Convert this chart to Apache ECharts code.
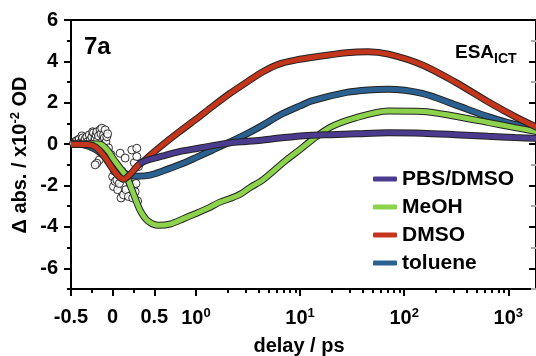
<!DOCTYPE html>
<html><head><meta charset="utf-8">
<script src="https://cdn.jsdelivr.net/npm/echarts@6/dist/echarts.min.js"></script>
<style>html,body{margin:0;padding:0;background:#fff}#c{width:536px;height:356px}</style>
</head><body><div id="c"></div>
<script>
// ---- data (delay in ps, signal in 10^-2 OD) ----
const seriesNames = ['PBS/DMSO', 'MeOH', 'DMSO', 'toluene'];
const seriesColors = ['#4b3b8f', '#8cd24c', '#c4361c', '#2b6190'];

const pbsT = [0.32, 0.4, 0.5, 0.62, 0.8, 1.05, 1.5, 2.1, 3.0, 4.4, 7, 12, 20, 34, 70, 149, 309, 639, 1159, 1900];
const pbsV = [-0.95, -0.8, -0.68, -0.55, -0.36, -0.2, -0.06, 0.06, 0.13, 0.2, 0.32, 0.42, 0.46, 0.5, 0.55, 0.53, 0.46, 0.38, 0.32, 0.28];

const meohT = [-0.5, -0.3, -0.15, -0.05, 0, 0.08, 0.17, 0.25, 0.33, 0.42, 0.55, 0.7, 0.85, 1, 1.3, 1.7, 2.2, 2.7, 3.3, 4.4, 7.4, 10, 12.4, 19.2, 34, 70, 149, 309, 639, 1159, 1900];
const meohV = [0, 0.02, 0, -0.35, -0.67, -1.1, -1.6, -2.4, -3.2, -3.7, -3.92, -3.85, -3.6, -3.35, -3.1, -2.8, -2.6, -2.4, -2.1, -1.72, -0.76, -0.26, 0.12, 0.8, 1.27, 1.6, 1.58, 1.35, 1.05, 0.8, 0.6];

const dmsoT = [-0.5, -0.3, -0.2, -0.1, 0, 0.07, 0.13, 0.2, 0.3, 0.4, 0.57, 0.8, 1, 1.45, 2.12, 3.08, 4.4, 6.37, 9.2, 13.2, 27.9, 45, 70.5, 149, 309, 639, 1159, 1900];
const dmsoV = [0, -0.02, -0.15, -0.6, -1.2, -1.55, -1.7, -1.5, -1.05, -0.72, -0.13, 0.6, 1.2, 1.83, 2.45, 3.0, 3.5, 3.88, 4.07, 4.2, 4.42, 4.47, 4.35, 3.83, 3.0, 2.05, 1.33, 0.8];

const tolT = [-0.5, -0.36, -0.21, -0.05, 0.07, 0.17, 0.3, 0.45, 0.6, 0.8, 1, 1.45, 2.1, 3.08, 4.4, 6.37, 10, 13.2, 27.9, 45, 70, 149, 309, 639, 1159, 1900];
const tolV = [0.02, -0.02, -0.25, -0.75, -1.2, -1.45, -1.55, -1.5, -1.3, -1.0, -0.65, -0.28, 0.1, 0.5, 0.92, 1.4, 1.85, 2.1, 2.5, 2.62, 2.65, 2.45, 1.9, 1.33, 0.95, 0.75];

// noisy early-time data points (open circles)
const noiseT = [-0.47, -0.45, -0.44, -0.42, -0.4, -0.39, -0.37, -0.36, -0.34, -0.33, -0.31, -0.3, -0.28, -0.27, -0.25, -0.24, -0.23, -0.22, -0.21, -0.2, -0.19, -0.18, -0.17, -0.15, -0.14, -0.13, -0.12, -0.11, -0.1, -0.09, -0.08, -0.07, -0.06, -0.05, -0.11, -0.16, -0.19, -0.21, -0.03, -0.02, 0, 0, 0.01, 0.02, 0.03, 0.03, 0.05, 0.06, 0.08, 0.09, 0.1, 0.11, 0.13, 0.15, 0.16, 0.19, 0.21, 0.23, 0.24, 0.25, 0.26, 0.27, 0.28, 0.29, 0.29, 0.3, 0.31];
const noiseV = [0.05, 0.1, 0.15, 0.2, 0.25, 0.06, 0.4, 0.3, 0.15, 0.25, 0.35, 0.12, 0.45, 0.2, 0.35, 0.6, 0.55, 0.15, 0.3, 0.45, 0.6, 0.2, 0.4, 0.7, 0.5, 0.77, 0.15, 0.45, 0.3, 0.69, 0.1, 0.36, 0.5, -0.18, -0.2, -0.76, -0.92, -1.0, -0.9, -0.5, -1.57, -0.8, -2.05, -1.3, -1.15, -1.8, -1.73, -2.2, -1.9, -0.44, -2.6, -1.3, -2.45, -0.67, -2.2, -2.53, -1.9, -0.28, -2.6, -2.1, -0.9, -2.3, -1.9, -0.2, -0.6, -2.75, -1.08];

// axis ticks
const xMajorTicks = [-0.5, 0, 0.5, 1, 10, 100, 1000];
const xMajorLabels = ['-0.5', '0', '0.5', '10{sup|0}', '10{sup|1}', '10{sup|2}', '10{sup|3}'];
const xMinorTicks = [-0.25, 0.25, 2, 3, 4, 5, 6, 7, 8, 9, 20, 30, 40, 50, 60, 70, 80, 90, 200, 300, 400, 500, 600, 700, 800, 900];
const yMajorTicks = [-6, -4, -2, 0, 2, 4, 6];
const yMinorTicks = [-7, -5, -3, -1, 1, 3, 5];

// linear up to 1 ps, logarithmic beyond
function toU(t) { return t <= 1 ? t : 1 + 1.25 * Math.log10(t); }
const X_MIN = -0.5, X_MAX = 5.082, Y_MIN = -7, Y_MAX = 6;

const FONT = 'Liberation Sans';
const chart = echarts.init(document.getElementById('c'), null, {renderer: 'canvas'});
const majorU = xMajorTicks.map(toU);
const lineBase = {color: '#000', width: 2};

function fitSeries(name, color, T, V) {
  const data = T.map((t, i) => [toU(t), V[i]]);
  return [
    {name: name + '_edge', type: 'line', data, smooth: 0.3, symbol: 'none', silent: true,
     lineStyle: {color: '#222', width: 7}, itemStyle: {color: '#222'}, animation: false, legendHoverLink: false},
    {name, type: 'line', data, smooth: 0.3, symbol: 'none', silent: true, color,
     lineStyle: {color, width: 5}, itemStyle: {color}, animation: false}
  ];
}

const series = [
  {name: 'data', type: 'scatter', data: noiseT.map((t, i) => [toU(t), noiseV[i]]), symbol: 'circle', symbolSize: 8,
   itemStyle: {color: '#fff', borderColor: '#000', borderWidth: 1}, silent: true, animation: false}
].concat(
  fitSeries('toluene', seriesColors[3], tolT, tolV),
  fitSeries('MeOH', seriesColors[1], meohT, meohV),
  fitSeries('DMSO', seriesColors[2], dmsoT, dmsoV),
  fitSeries('PBS/DMSO', seriesColors[0], pbsT, pbsV)
);

const grid = {left: 71, right: -1, top: 20, bottom: 67};
const noLine = {show: false, onZero: false};
const option = {
  animation: false,
  grid: [Object.assign({}, grid), Object.assign({}, grid)],
  xAxis: [
    {gridIndex: 0, type: 'value', min: X_MIN, max: X_MAX, position: 'bottom',
     axisLine: {onZero: false, lineStyle: lineBase}, splitLine: {show: false},
     axisTick: {customValues: majorU, length: 7, lineStyle: lineBase},
     axisLabel: {customValues: majorU, margin: 18, color: '#000', fontFamily: FONT, fontWeight: 'bold', fontSize: 20,
       formatter: v => { for (let i = 0; i < majorU.length; i++) if (Math.abs(majorU[i] - v) < 1e-6) return xMajorLabels[i]; return ''; },
       rich: {sup: {fontFamily: FONT, fontWeight: 'bold', fontSize: 13, verticalAlign: 'top', color: '#000', padding: [0, 0, 10, 0]}}}},
    {gridIndex: 0, type: 'value', min: X_MIN, max: X_MAX, position: 'top',
     axisLine: {onZero: false, lineStyle: lineBase}, axisTick: {show: false}, axisLabel: {show: false}, splitLine: {show: false}},
    {gridIndex: 1, type: 'value', min: X_MIN, max: X_MAX, position: 'bottom',
     axisLine: noLine, splitLine: {show: false}, axisLabel: {show: false},
     axisTick: {customValues: xMinorTicks.map(toU), length: 4, lineStyle: lineBase}}
  ],
  yAxis: [
    {gridIndex: 0, type: 'value', min: Y_MIN, max: Y_MAX, position: 'left',
     axisLine: {onZero: false, lineStyle: lineBase}, splitLine: {show: false},
     axisTick: {customValues: yMajorTicks, length: 7, lineStyle: lineBase},
     axisLabel: {customValues: yMajorTicks, margin: 13, color: '#000', fontFamily: FONT, fontWeight: 'bold', fontSize: 20}},
    {gridIndex: 0, type: 'value', min: Y_MIN, max: Y_MAX, position: 'right',
     axisLine: {onZero: false, lineStyle: lineBase}, splitLine: {show: false}, axisLabel: {show: false},
     axisTick: {customValues: yMajorTicks, inside: true, length: 7, lineStyle: lineBase}},
    {gridIndex: 1, type: 'value', min: Y_MIN, max: Y_MAX, position: 'left',
     axisLine: noLine, splitLine: {show: false}, axisLabel: {show: false},
     axisTick: {customValues: yMinorTicks, length: 4, lineStyle: lineBase}},
    {gridIndex: 1, type: 'value', min: Y_MIN, max: Y_MAX, position: 'right',
     axisLine: noLine, splitLine: {show: false}, axisLabel: {show: false},
     axisTick: {customValues: yMinorTicks, inside: true, length: 5, lineStyle: {color: '#aaa', width: 2}}}
  ],
  legend: {
    orient: 'vertical', left: 368, top: 163, itemWidth: 24, itemHeight: 5, itemGap: 6, icon: 'roundRect',
    selectedMode: false, data: seriesNames,
    textStyle: {fontFamily: FONT, fontWeight: 'bold', fontSize: 21, color: '#000', lineHeight: 22, padding: [0, 0, 0, 0]}
  },
  graphic: [
    {type: 'text', x: 84, y: 35, style: {text: '7a', fontFamily: FONT, fontWeight: 'bold', fontSize: 24, fill: '#000', align: 'left', verticalAlign: 'top'}},
    {type: 'text', x: 455, y: 43, style: {text: 'ESA', fontFamily: FONT, fontWeight: 'bold', fontSize: 19, fill: '#000', align: 'left', verticalAlign: 'top'}},
    {type: 'text', x: 494, y: 52, style: {text: 'ICT', fontFamily: FONT, fontWeight: 'bold', fontSize: 14, fill: '#000', align: 'left', verticalAlign: 'top'}},
    {type: 'text', x: 299, y: 336, style: {text: 'delay / ps', fontFamily: FONT, fontWeight: 'bold', fontSize: 20, fill: '#000', align: 'center', verticalAlign: 'top'}},
    {type: 'text', x: 20, y: 155, rotation: Math.PI / 2,
     style: {text: 'Δ abs. / x10{sup|-2} OD', fontFamily: FONT, fontWeight: 'bold', fontSize: 20, fill: '#000', align: 'center', verticalAlign: 'middle',
       rich: {sup: {fontFamily: FONT, fontWeight: 'bold', fontSize: 13, verticalAlign: 'top', fill: '#000', padding: [0, 0, 9, 0]}}}}
  ],
  series
};
chart.setOption(option);
</script></body></html>
